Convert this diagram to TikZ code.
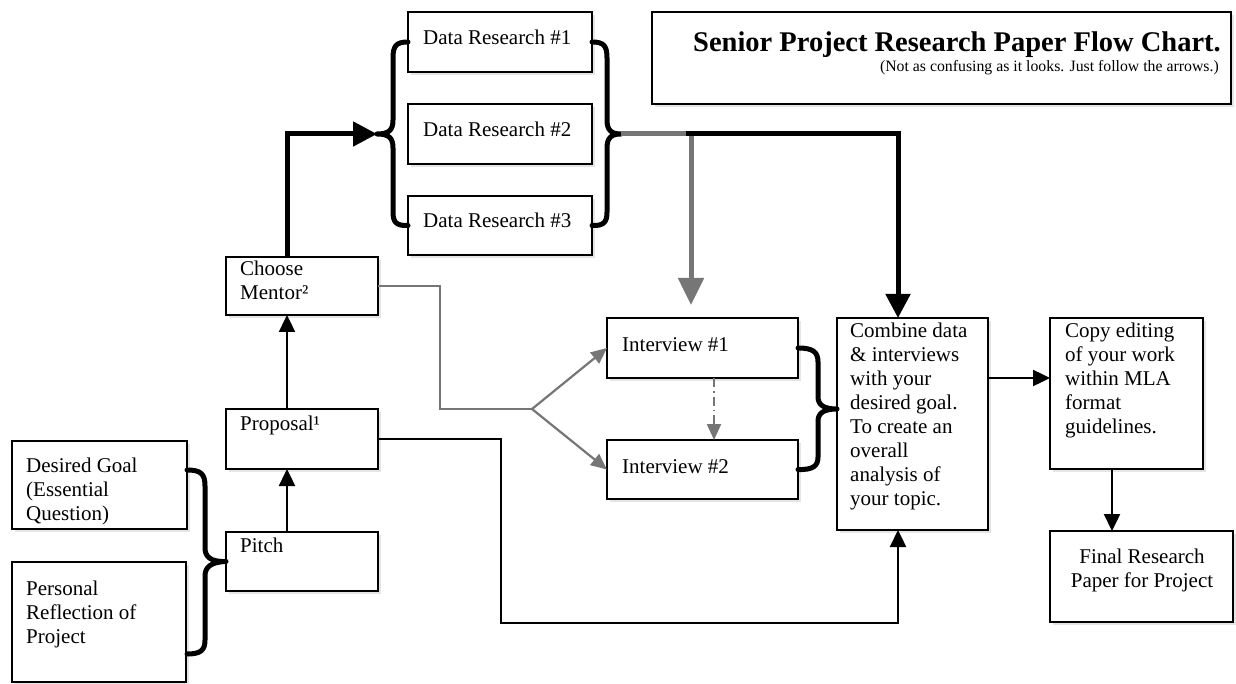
\documentclass[tikz,border=0pt]{standalone}
\usepackage{fontspec}
\setmainfont{Liberation Serif}
\usetikzlibrary{arrows.meta,shadows}
\definecolor{lgray}{HTML}{767676}
\begin{document}
\begin{tikzpicture}[x=1pt,y=-1pt,
  box/.style={draw=black, line width=2.6pt, fill=white, inner sep=0pt, outer sep=0pt, anchor=north west,
    drop shadow={shadow xshift=2.5pt, shadow yshift=-3pt, opacity=0.2}},
  txt/.style={anchor=base west, align=left, inner sep=0pt, font=\fontsize{21}{24}\selectfont},
  brace/.style={draw=black, line width=5pt, line cap=round, line join=round},
  thickarrow/.style={draw=black, line width=5pt, -{Triangle[length=24pt,width=24pt]}},
  grayarrow/.style={draw=lgray, line width=5pt, -{Triangle[length=27pt,width=25pt]}},
  thinarrow/.style={draw=black, line width=2.4pt, -{Triangle[length=17pt,width=16pt]}},
  graythin/.style={draw=lgray, line width=2.2pt},
  graythinarrow/.style={graythin, -{Triangle[length=16pt,width=14pt]}},
]
\fill[white] (0,0) rectangle (1236,684);
\useasboundingbox (0,0) rectangle (1236,684);

% boxes
\node[box, minimum width=579pt, minimum height=92pt] (title) at (652,12) {};
\node[box, minimum width=184pt, minimum height=60pt] (dr1) at (408,12) {};
\node[box, minimum width=184pt, minimum height=60pt] (dr2) at (408,104) {};
\node[box, minimum width=184pt, minimum height=59pt] (dr3) at (408,196) {};
\node[box, minimum width=152pt, minimum height=58pt] (cm) at (226,257) {};
\node[box, minimum width=152pt, minimum height=60pt] (prop) at (226,409) {};
\node[box, minimum width=152pt, minimum height=59pt] (pitch) at (226,532) {};
\node[box, minimum width=175pt, minimum height=88pt] (dg) at (12,441) {};
\node[box, minimum width=174pt, minimum height=120pt] (pers) at (12,562) {};
\node[box, minimum width=191pt, minimum height=60pt] (iv1) at (607,318) {};
\node[box, minimum width=191pt, minimum height=59pt] (iv2) at (607,440) {};
\node[box, minimum width=151pt, minimum height=212pt] (comb) at (837,318) {};
\node[box, minimum width=153pt, minimum height=151pt] (copy) at (1050,318) {};
\node[box, minimum width=183pt, minimum height=91pt] (final) at (1050,531) {};

% texts (multi-line nodes: base = baseline of the last line)
\node[anchor=base east, inner sep=0pt, font=\bfseries\fontsize{28.5}{30}\selectfont] (titlet) at (1221,52) {Senior Project Research Paper Flow Chart.};
\node[anchor=base east, inner sep=0pt, font=\fontsize{15.8}{17}\selectfont] (subt) at (1219,72) {(Not as confusing as it looks. Just follow the arrows.)};
\node[txt] (dr1t) at (423,45) {Data Research \#1};
\node[txt] (dr2t) at (423,137) {Data Research \#2};
\node[txt] (dr3t) at (423,228) {Data Research \#3};
\node[txt] (cmt) at (240,300) {Choose\\Mentor²};
\node[txt] (propt) at (240,430) {Proposal¹};
\node[txt] (pitcht) at (240,552) {Pitch};
\node[txt] (dgt) at (26,520) {Desired Goal\\(Essential\\Question)};
\node[txt] (perst) at (26,643) {Personal\\Reflection of\\Project};
\node[txt] (iv1t) at (622,352) {Interview \#1};
\node[txt] (iv2t) at (622,473) {Interview \#2};
\node[txt] (combt) at (850,505) {Combine data\\\& interviews\\with your\\desired goal.\\To create an\\overall\\analysis of\\your topic.};
\node[txt] (copyt) at (1065,433) {Copy editing\\of your work\\within MLA\\format\\guidelines.};
\node[txt, anchor=base, align=center] (finalt) at (1142,587) {Final Research\\Paper for Project};

% helper coordinates
\coordinate (ax) at (287,0);
\coordinate (cx) at (898,0);
\coordinate (fx) at (1112,0);
\coordinate (dx) at (714,0);
\coordinate (cy) at (0,378);
\coordinate (drtipL) at (377,134);
\coordinate (drtipR) at (621,134);
\coordinate (gcorner) at (691,134);
\coordinate (gtip) at (691,305);
\coordinate (bstart) at (686,134);
\coordinate (g1) at (440,409);
\coordinate (br) at (532,409);
\coordinate (p1) at (501,623);
\coordinate (ivtip) at (837,409);

% braces
\draw[brace] (dr1.west) .. controls (396,42) and (393,46) .. (393,58) -- (393,120)
  .. controls (393,130) and (389,134) .. (drtipL)
  .. controls (389,134) and (393,138) .. (393,148) -- (393,212)
  .. controls (393,222) and (396,226) .. (dr3.west);
\draw[brace] (dr1.east) .. controls (604,42) and (607,46) .. (607,58) -- (607,120)
  .. controls (607,130) and (611,134) .. (drtipR)
  .. controls (611,134) and (607,138) .. (607,148) -- (607,212)
  .. controls (607,222) and (604,226) .. (dr3.east);
\draw[brace] (iv1.east) .. controls (813,348) and (818,352) .. (818,362) -- (818,397)
  .. controls (818,405) and (824,409) .. (ivtip)
  .. controls (824,409) and (818,413) .. (818,421) -- (818,457)
  .. controls (818,466) and (813,470) .. (iv2.east);
\draw[brace] (187,470) .. controls (201,470) and (205,474) .. (205,486) -- (205,548)
  .. controls (205,557) and (211,562) .. (pitch.west)
  .. controls (211,562) and (205,567) .. (205,576) -- (205,640)
  .. controls (205,650) and (201,654) .. (187,654);

% thick connectors
\draw[thickarrow] (ax |- cm.north) |- (drtipL);
\draw[grayarrow] (drtipR) -- (gcorner) -- (gtip);
\draw[thickarrow] (bstart) -| (cx |- comb.north);

% thin connectors
\draw[thinarrow] (ax |- pitch.north) -- (ax |- prop.south);
\draw[thinarrow] (ax |- prop.north) -- (ax |- cm.south);
\draw[graythin] (cm.east) -| (g1) -- (br);
\draw[graythinarrow] (br) -- (iv1.west);
\draw[graythinarrow] (br) -- (iv2.west);
\draw[graythinarrow, dash pattern=on 9pt off 4pt on 1.5pt off 4pt] (dx |- iv1.south) -- (dx |- iv2.north);
\draw[thinarrow, line join=miter] (prop.east) -| (p1) -| (cx |- comb.south);
\draw[thinarrow] (comb.east |- cy) -- (copy.west |- cy);
\draw[thinarrow] (fx |- copy.south) -- (fx |- final.north);
\end{tikzpicture}
\end{document}
